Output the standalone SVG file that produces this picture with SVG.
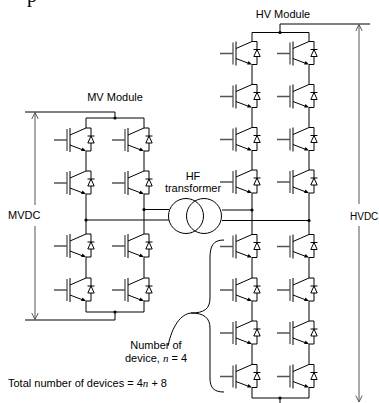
<svg xmlns="http://www.w3.org/2000/svg" width="379" height="403" viewBox="0 0 379 403">
<style>
.w{fill:none;stroke:#000;stroke-width:1}
.gt{fill:none;stroke:#555;stroke-width:1.3}
.ar{fill:none;stroke:#555;stroke-width:1}
.dot{fill:#000}
text{font-family:"Liberation Sans",Arial,sans-serif;font-size:11px;fill:#000}
.it{font-family:"Liberation Serif","Times New Roman",serif;font-style:italic}
</style>
<defs>
<g id="sw">
<path class="gt" d="M-32,12H-19M-19,1V23"/>
<path class="w" d="M-16,0V24" stroke-width="1.3"/>
<path class="w" d="M-16,7L0,0M-16,17L-3,22"/>
<path d="M0,23L-4.9,23L-3.5,19.4Z" fill="#000"/>
<path class="w" d="M0,0H5V8M5,15V23H0"/>
<path class="w" d="M1.5,8H8.5M5,8L1.8,15H8.2Z"/>
</g>
<marker id="open" viewBox="0 0 10 10" refX="9" refY="5" markerWidth="8" markerHeight="8" markerUnits="userSpaceOnUse" orient="auto">
<path d="M1,1L9,5L1,9" fill="none" stroke="#555" stroke-width="1.2"/>
</marker>
</defs>

<text x="27" y="2" style="font-family:'Liberation Serif',serif;font-size:20px">p</text>

<g id="mv-module">
<text x="115" y="101" text-anchor="middle">MV Module</text>
<use href="#sw" x="86" y="128"/>
<use href="#sw" x="86" y="171"/>
<use href="#sw" x="86" y="234"/>
<use href="#sw" x="86" y="278"/>
<use href="#sw" x="144" y="128"/>
<use href="#sw" x="144" y="171"/>
<use href="#sw" x="144" y="234"/>
<use href="#sw" x="144" y="278"/>
</g>

<g id="hv-module">
<text x="283" y="17.5" text-anchor="middle">HV Module</text>
<use href="#sw" x="252" y="41.5"/>
<use href="#sw" x="252" y="84.5"/>
<use href="#sw" x="252" y="127.5"/>
<use href="#sw" x="252" y="170"/>
<use href="#sw" x="252" y="234.5"/>
<use href="#sw" x="252" y="278"/>
<use href="#sw" x="252" y="321"/>
<use href="#sw" x="252" y="364.5"/>
<use href="#sw" x="309" y="41.5"/>
<use href="#sw" x="309" y="84.5"/>
<use href="#sw" x="309" y="127.5"/>
<use href="#sw" x="309" y="170"/>
<use href="#sw" x="309" y="234.5"/>
<use href="#sw" x="309" y="278"/>
<use href="#sw" x="309" y="321"/>
<use href="#sw" x="309" y="364.5"/>
</g>

<g id="hf-transformer">
<text x="193" y="180" text-anchor="middle">HF</text>
<text x="193" y="192" text-anchor="middle">transformer</text>
<circle class="w" cx="186" cy="216" r="17.5"/>
<circle class="w" cx="204" cy="216" r="17.5"/>
</g>

<g id="labels">
<text x="8" y="219">MVDC</text>
<text x="350" y="219.5" style="font-size:10px">HVDC</text>
<text x="156" y="349" text-anchor="middle">Number of</text>
<text x="156" y="362" text-anchor="middle">device, <tspan class="it">n</tspan> = 4</text>
<text x="8" y="387">Total number of devices = 4<tspan class="it">n</tspan> + 8</text>
</g>

<g id="connectors">
<path class="w" d="M86,118V128M86,151V171M86,194V234M86,257V278M86,301V312"/>
<path class="w" d="M144,118V128M144,151V171M144,194V234M144,257V278M144,301V312"/>
<path class="w" d="M86,118H144M86,312H144M115,118V112H25M115,312V320H25"/>
<path class="w" d="M144,209.5H169M86,220H169"/>
<circle class="dot" cx="115" cy="118" r="1.6"/>
<circle class="dot" cx="115" cy="312" r="1.6"/>
<circle class="dot" cx="144" cy="209.5" r="1.6"/>
<circle class="dot" cx="86" cy="220" r="1.6"/>
<path class="w" d="M252,32.5V41.5M252,64.5V84.5M252,107.5V127.5M252,150.5V170M252,193V234.5M252,257.5V278M252,301V321M252,344V364.5M252,387.5V398"/>
<path class="w" d="M309,32.5V41.5M309,64.5V84.5M309,107.5V127.5M309,150.5V170M309,193V234.5M309,257.5V278M309,301V321M309,344V364.5M309,387.5V398"/>
<path class="w" d="M252,32.5H309M280,32.5V24H370M252,398H309M280,398V403"/>
<path class="w" d="M222,210H252M222,220.5H309"/>
<circle class="dot" cx="280" cy="32.5" r="1.6"/>
<circle class="dot" cx="280" cy="398" r="1.6"/>
<circle class="dot" cx="252" cy="210" r="1.6"/>
<circle class="dot" cx="309" cy="220.5" r="1.6"/>
<path class="ar" d="M35,205V112.5" marker-end="url(#open)"/>
<path class="ar" d="M35,226V319.5" marker-end="url(#open)"/>
<path class="ar" d="M359,204V24.5" marker-end="url(#open)"/>
<path class="ar" d="M359,226V402" marker-end="url(#open)"/>
<path class="w" d="M224,240C213,240 210,246 210,258L210,298C210,309 204,313 191,313C204,313 210,318 210,328L210,378C210,388 214,392 224,392"/>
<path class="w" d="M191,313C181,314 172,326 168,346"/>
</g>
</svg>
